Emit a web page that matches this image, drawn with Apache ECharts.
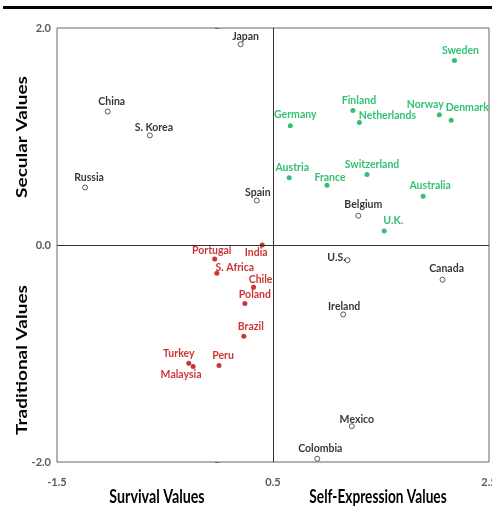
<!DOCTYPE html>
<html><head><meta charset="utf-8">
<script src="https://cdn.jsdelivr.net/npm/echarts@6/dist/echarts.min.js"></script>
<style>html,body{margin:0;padding:0;background:#fff}#c{width:492px;height:508px}</style>
</head><body><div id="c"></div>
<script>
// Data
const xTicks = [-1.5, 0.5, 2.5];
const yTicks = [-2.0, 0.0, 2.0];

const blackNames = ['Japan','China','S. Korea','Russia','Spain','Belgium','U.S.','Canada','Ireland','Mexico','Colombia'];
const blackX = [0.20, -1.03, -0.64, -1.24, 0.35, 1.29, 1.19, 2.07, 1.15, 1.23, 0.91];
const blackY = [1.85, 1.23, 1.01, 0.53, 0.41, 0.27, -0.14, -0.32, -0.64, -1.67, -1.97];

const greenNames = ['Sweden','Finland','Netherlands','Norway','Denmark','Germany','Austria','France','Switzerland','Australia','U.K.'];
const greenX = [2.18, 1.24, 1.30, 2.04, 2.15, 0.66, 0.65, 1.00, 1.37, 1.89, 1.53];
const greenY = [1.70, 1.24, 1.13, 1.20, 1.15, 1.10, 0.62, 0.55, 0.65, 0.45, 0.13];

const redNames = ['India','Portugal','S. Africa','Chile','Poland','Brazil','Turkey','Malaysia','Peru'];
const redX = [0.40, -0.04, -0.02, 0.32, 0.24, 0.23, -0.28, -0.24, 0.00];
const redY = [0.00, -0.13, -0.26, -0.39, -0.54, -0.84, -1.09, -1.12, -1.11];

// Label placement (style only): offset of label centre from the point, in px
const labelOffset = {
  'Japan':[5,-8],'China':[4,-10],'S. Korea':[4,-8],'Russia':[4,-10],'Spain':[1,-8],
  'Belgium':[5,-11],'U.S.':[-11,-3],'Canada':[4,-11],'Ireland':[1,-8],'Mexico':[5,-7],'Colombia':[3,-10],
  'Sweden':[6,-10],'Finland':[6,-10],'Netherlands':[28,-7],'Norway':[-14,-10],'Denmark':[16,-13],
  'Germany':[5,-11],'Austria':[3,-10],'France':[3,-8],'Switzerland':[5,-10],'Australia':[7,-11],'U.K.':[9,-10],
  'India':[-6,8],'Portugal':[-3,-8],'S. Africa':[18,-6],'Chile':[7,-8],'Poland':[10,-9],'Brazil':[7,-10],
  'Turkey':[-10,-10],'Malaysia':[-12,8],'Peru':[4,-10]
};

const FONT = "Lato, 'DejaVu Sans Condensed', sans-serif";
const GREEN = '#00b050', RED = '#c00000';

function build(names, xs, ys) {
  return names.map((n, i) => ({
    name: n, value: [xs[i], ys[i]],
    label: { offset: labelOffset[n] || [0,-10] }
  }));
}
function series(names, xs, ys, color, hollow) {
  return {
    type: 'scatter', symbol: 'circle', symbolSize: 5,
    data: build(names, xs, ys),
    itemStyle: hollow ? { color: '#fff', borderColor: '#333', borderWidth: 1 } : { color: color, borderWidth: 0 },
    label: { show: true, position: 'inside', formatter: '{b}', color: color,
      textBorderWidth: 0, textBorderColor: 'transparent',
      fontFamily: FONT, fontWeight: 'bold', fontSize: 10.5 },
    emphasis: { disabled: true }, z: 3
  };
}

const chart = echarts.init(document.getElementById('c'), null, { renderer: 'canvas' });
const tickFmt = v => (Math.abs(v) < 1e-9 ? 0 : v).toFixed(1);
const titleStyle = (t) => ({ text: t, fill: '#000', font: "bold 19px " + FONT, textAlign: 'center', textVerticalAlign: 'middle' });
chart.setOption({
  animation: false,
  grid: { left: 57, right: 3, top: 28, bottom: 46, outerBoundsMode: 'none', containLabel: false,
    show: true, borderColor: '#666', borderWidth: 1 },
  xAxis: {
    type: 'value', min: xTicks[0], max: xTicks[xTicks.length-1], interval: xTicks[1]-xTicks[0],
    splitLine: { show: false }, axisLine: { show: false },
    axisTick: { show: false },
    axisLabel: { formatter: tickFmt, color: '#595959', fontFamily: FONT, fontWeight: 'bold', fontSize: 11, margin: 15 }
  },
  yAxis: {
    type: 'value', min: yTicks[0], max: yTicks[yTicks.length-1], interval: yTicks[1]-yTicks[0],
    splitLine: { show: false }, axisLine: { show: false },
    axisTick: { show: true, length: 4, lineStyle: { color: '#666' } },
    axisLabel: { formatter: tickFmt, color: '#595959', fontFamily: FONT, fontWeight: 'bold', fontSize: 11, margin: 6 }
  },
  series: [
    Object.assign(series(blackNames, blackX, blackY, '#000', true), {
      markLine: { silent: true, symbol: 'none', label: { show: false },
        lineStyle: { color: '#333', width: 1, type: 'solid' },
        data: [{ xAxis: 0.5 }, { yAxis: 0 }] }
    }),
    series(greenNames, greenX, greenY, GREEN, false),
    series(redNames, redX, redY, RED, false)
  ],
  graphic: [
    { type: 'rect', shape: { x: 3, y: 6, width: 489, height: 3 }, style: { fill: '#000' } },
    { type: 'text', x: 22, y: 137, rotation: Math.PI/2, scaleY: 0.78, style: titleStyle('Secular Values') },
    { type: 'text', x: 22, y: 360, rotation: Math.PI/2, scaleY: 0.78, style: titleStyle('Traditional Values') },
    { type: 'text', x: 157, y: 497, scaleX: 0.75, style: titleStyle('Survival Values') },
    { type: 'text', x: 378, y: 497, scaleX: 0.72, style: titleStyle('Self-Expression Values') }
  ]
});
</script></body></html>
